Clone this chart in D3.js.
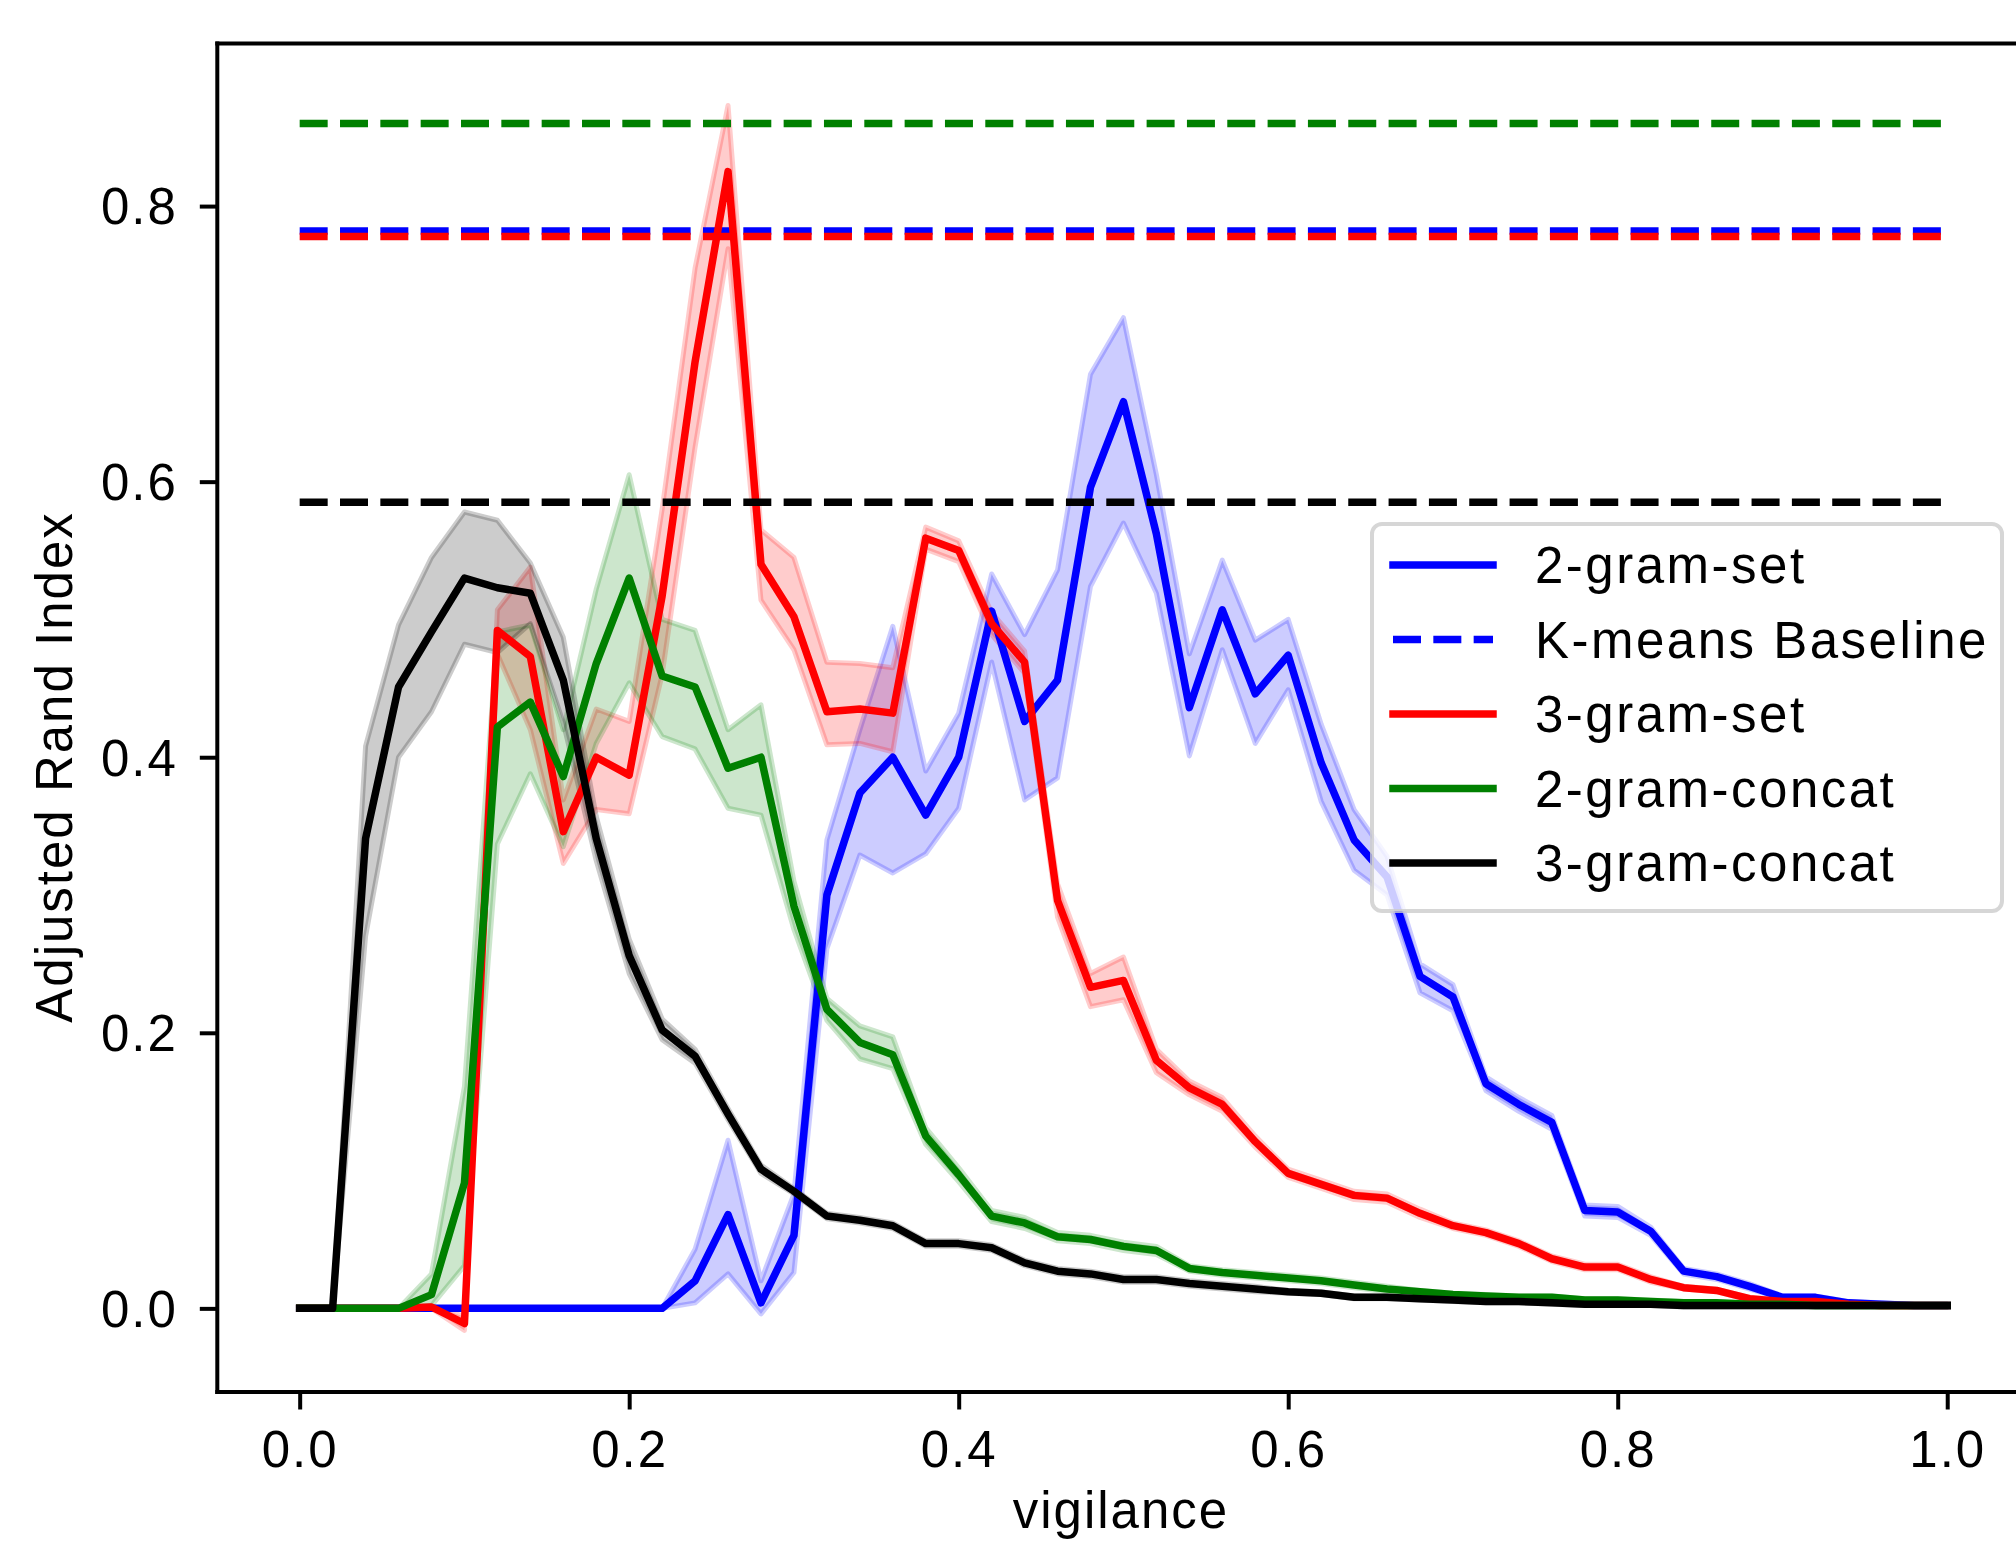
<!DOCTYPE html>
<html><head><meta charset="utf-8">
<script src="https://cdn.jsdelivr.net/npm/d3@7"></script>
<style>
body{margin:0;background:#fff}
text{font-family:"Liberation Sans",Arial,sans-serif}
</style>
</head><body>
<svg id="chart" width="2016" height="1541"></svg>
<script>
// ---------------- data ----------------
const vigilance = [0.00,0.02,0.04,0.06,0.08,0.10,0.12,0.14,0.16,0.18,0.20,0.22,0.24,0.26,0.28,0.30,0.32,0.34,0.36,0.38,0.40,0.42,0.44,0.46,0.48,0.50,0.52,0.54,0.56,0.58,0.60,0.62,0.64,0.66,0.68,0.70,0.72,0.74,0.76,0.78,0.80,0.82,0.84,0.86,0.88,0.90,0.92,0.94,0.96,0.98,1.00];

const seriesNames = ["2-gram-set","3-gram-set","2-gram-concat","3-gram-concat"];
const seriesColors = ["#0000ff","#ff0000","#008000","#000000"];

const set2Mean = [0,0,0,0,0,0,0,0,0,0,0,0,
  0.020,0.068,0.004,0.053,
  0.300,0.374,0.400,0.358,0.400,
  0.506,0.426,0.456,0.596,0.658,
  0.562,0.436,0.507,0.446,0.474,
  0.396,0.340,0.313,0.241,0.226,
  0.163,0.148,0.135,0.071,0.070,
  0.056,0.027,0.023,0.016,0.008,
  0.008,0.004,0.003,0.002,0.002];
const set2Lower = [0,0,0,0,0,0,0,0,0,0,0,0,
  0.004,0.025,-0.004,0.026,
  0.261,0.329,0.316,0.330,0.363,
  0.469,0.369,0.385,0.524,0.570,
  0.519,0.401,0.478,0.410,0.449,
  0.368,0.318,0.300,0.229,0.216,
  0.158,0.143,0.130,0.067,0.066,
  0.053,0.025,0.021,0.014,0.007,
  0.007,0.003,0.002,0.001,0.001];
const set2Upper = [0,0,0,0,0,0,0,0,0,0,0,0,
  0.043,0.122,0.020,0.083,
  0.340,0.420,0.495,0.390,0.432,
  0.533,0.489,0.536,0.678,0.719,
  0.605,0.475,0.543,0.485,0.500,
  0.424,0.362,0.328,0.250,0.235,
  0.168,0.153,0.140,0.075,0.074,
  0.059,0.029,0.025,0.018,0.009,
  0.009,0.005,0.004,0.003,0.003];

const set3Mean = [0,0,0,0,0.001,-0.011,
  0.492,0.473,0.346,0.400,0.387,
  0.517,0.687,0.825,0.540,0.502,
  0.433,0.435,0.432,0.559,0.550,
  0.497,0.469,0.296,0.233,0.238,
  0.180,0.160,0.148,0.121,0.098,
  0.090,0.082,0.080,0.069,0.060,
  0.055,0.047,0.036,0.030,0.030,
  0.021,0.015,0.013,0.007,0.005,
  0.005,0.003,0.002,0.002,0.002];
const set3Lower = [0,0,0,0,0.000,-0.016,
  0.475,0.420,0.323,0.362,0.359,
  0.460,0.625,0.769,0.514,0.478,
  0.409,0.410,0.404,0.551,0.542,
  0.489,0.461,0.284,0.219,0.224,
  0.171,0.155,0.143,0.117,0.095,
  0.087,0.079,0.077,0.066,0.058,
  0.053,0.045,0.034,0.028,0.028,
  0.019,0.014,0.012,0.006,0.004,
  0.004,0.002,0.001,0.001,0.001];
const set3Upper = [0,0,0,0,0.002,-0.006,
  0.507,0.538,0.369,0.435,0.426,
  0.580,0.755,0.873,0.565,0.545,
  0.469,0.468,0.465,0.567,0.557,
  0.505,0.477,0.308,0.243,0.255,
  0.188,0.165,0.153,0.125,0.101,
  0.093,0.085,0.083,0.072,0.062,
  0.057,0.049,0.038,0.032,0.032,
  0.023,0.016,0.014,0.008,0.006,
  0.006,0.004,0.003,0.003,0.003];

const concat2Mean = [0,0,0,0,0.010,0.091,
  0.422,0.440,0.386,0.468,0.530,
  0.459,0.451,0.392,0.400,0.292,
  0.217,0.193,0.184,0.125,0.097,
  0.067,0.062,0.052,0.050,0.045,
  0.042,0.029,0.026,0.024,0.022,
  0.020,0.017,0.014,0.012,0.010,
  0.009,0.008,0.008,0.006,0.006,
  0.005,0.004,0.004,0.003,0.003,
  0.002,0.002,0.002,0.002,0.002];
const concat2Lower = [0,0,0,0,0.002,0.031,
  0.337,0.388,0.335,0.410,0.454,
  0.415,0.406,0.363,0.358,0.275,
  0.209,0.181,0.174,0.119,0.092,
  0.063,0.058,0.049,0.047,0.042,
  0.039,0.027,0.024,0.022,0.020,
  0.018,0.015,0.012,0.011,0.009,
  0.008,0.007,0.007,0.005,0.005,
  0.004,0.003,0.003,0.002,0.002,
  0.001,0.001,0.001,0.001,0.001];
const concat2Upper = [0,0,0,0,0.025,0.161,
  0.491,0.496,0.420,0.522,0.605,
  0.500,0.492,0.420,0.438,0.310,
  0.225,0.205,0.197,0.131,0.102,
  0.071,0.066,0.055,0.053,0.048,
  0.045,0.031,0.028,0.026,0.024,
  0.022,0.019,0.016,0.013,0.011,
  0.010,0.009,0.009,0.007,0.007,
  0.006,0.005,0.005,0.004,0.004,
  0.003,0.003,0.003,0.003,0.003];

const concat3Mean = [0,0,0.341,0.451,0.491,0.530,
  0.523,0.519,0.456,0.341,0.256,
  0.202,0.183,0.141,0.101,0.085,
  0.067,0.064,0.060,0.047,0.047,
  0.044,0.033,0.027,0.025,0.021,
  0.021,0.018,0.016,0.014,0.012,
  0.011,0.008,0.008,0.007,0.006,
  0.005,0.005,0.004,0.003,0.003,
  0.003,0.002,0.002,0.002,0.002,
  0.002,0.002,0.002,0.002,0.002];
const concat3Lower = [0,0,0.270,0.400,0.433,0.482,
  0.476,0.497,0.425,0.325,0.243,
  0.195,0.178,0.137,0.098,0.083,
  0.065,0.062,0.058,0.045,0.045,
  0.042,0.031,0.025,0.023,0.019,
  0.019,0.016,0.014,0.012,0.011,
  0.010,0.007,0.007,0.006,0.005,
  0.004,0.004,0.003,0.002,0.002,
  0.002,0.001,0.001,0.001,0.001,
  0.001,0.001,0.001,0.001,0.001];
const concat3Upper = [0,0,0.408,0.496,0.545,0.578,
  0.572,0.541,0.487,0.357,0.268,
  0.210,0.188,0.145,0.104,0.087,
  0.069,0.066,0.062,0.049,0.049,
  0.046,0.035,0.029,0.027,0.023,
  0.023,0.020,0.018,0.016,0.013,
  0.012,0.009,0.009,0.008,0.007,
  0.006,0.006,0.005,0.004,0.004,
  0.004,0.003,0.003,0.003,0.003,
  0.003,0.003,0.003,0.003,0.003];

// K-means baseline per series (blue, red, green, black)
const baselineValues = [0.782, 0.778, 0.860, 0.585];

const xTicks = [0.0, 0.2, 0.4, 0.6, 0.8, 1.0];
const yTicks = [0.0, 0.2, 0.4, 0.6, 0.8];
const legendLabels = ["2-gram-set","K-means Baseline","3-gram-set","2-gram-concat","3-gram-concat"];

// ---------------- drawing ----------------
(function draw() {
const means = [set2Mean, set3Mean, concat2Mean, concat3Mean];
const lowers = [set2Lower, set3Lower, concat2Lower, concat3Lower];
const uppers = [set2Upper, set3Upper, concat2Upper, concat3Upper];

const svg = d3.select("#chart");
const FONT = 51;
const pLeft = 217.3, pRight = 2029.6, pTop = 43.5, pBottom = 1392;

const x = d3.scaleLinear().domain([-0.05, 1.05]).range([pLeft, pRight]);
const y = d3.scaleLinear().domain([-0.0607, 0.918]).range([pBottom, pTop]);

svg.append("defs").append("clipPath").attr("id","clip")
  .append("rect").attr("x",pLeft).attr("y",pTop).attr("width",pRight-pLeft).attr("height",pBottom-pTop);

const plot = svg.append("g").attr("clip-path","url(#clip)");

const area = d3.area().x(d => x(d.v)).y0(d => y(d.lo)).y1(d => y(d.hi));
const line = d3.line().x(d => x(d.v)).y(d => y(d.m));

const seriesData = means.map((m, s) => vigilance.map((v, i) => ({v, m: m[i], lo: lowers[s][i], hi: uppers[s][i]})));

// bands (below lines)
seriesData.forEach((data, s) => {
  plot.append("path").datum(data)
    .attr("d", area)
    .attr("fill", seriesColors[s]).attr("fill-opacity", 0.2)
    .attr("stroke", seriesColors[s]).attr("stroke-opacity", 0.2)
    .attr("stroke-width", 5).attr("stroke-linejoin","round");
});

// mean lines and baselines
seriesData.forEach((data, s) => {
  plot.append("path").datum(data)
    .attr("d", line)
    .attr("fill","none").attr("stroke", seriesColors[s])
    .attr("stroke-width", 7.5).attr("stroke-linejoin","round").attr("stroke-linecap","square");
  plot.append("line")
    .attr("x1", x(vigilance[0])).attr("x2", x(vigilance[vigilance.length-1]))
    .attr("y1", y(baselineValues[s])).attr("y2", y(baselineValues[s]))
    .attr("stroke", seriesColors[s]).attr("stroke-width", 7.5)
    .attr("stroke-dasharray","28,12.33").attr("stroke-linecap","butt");
});

// axes
const xAxis = svg.append("g").attr("transform", `translate(0,${pBottom})`)
  .call(d3.axisBottom(x).tickValues(xTicks).tickFormat(d3.format(".1f"))
    .tickSize(17.5).tickSizeOuter(0).tickPadding(21));
const yAxis = svg.append("g").attr("transform", `translate(${pLeft},0)`)
  .call(d3.axisLeft(y).tickValues(yTicks).tickFormat(d3.format(".1f"))
    .tickSize(17.5).tickSizeOuter(0).tickPadding(22));
[xAxis, yAxis].forEach(a => {
  a.select(".domain").remove();
  a.attr("font-size", FONT).attr("font-family", '"Liberation Sans",Arial,sans-serif');
  a.selectAll(".tick line").attr("stroke","#000").attr("stroke-width",4);
  a.selectAll(".tick text").attr("fill","#000").style("letter-spacing","2px");
});
yAxis.selectAll(".tick text").attr("dy","0.35em");

// spines
const spines = svg.append("g").attr("stroke","#000").attr("stroke-width",4).attr("stroke-linecap","square");
spines.append("line").attr("x1",pLeft).attr("x2",pLeft).attr("y1",pTop).attr("y2",pBottom);
spines.append("line").attr("x1",pLeft).attr("x2",pRight).attr("y1",pBottom).attr("y2",pBottom);
spines.append("line").attr("x1",pLeft).attr("x2",pRight).attr("y1",pTop).attr("y2",pTop);
spines.append("line").attr("x1",pRight).attr("x2",pRight).attr("y1",pTop).attr("y2",pBottom);

// axis labels
svg.append("text").text("vigilance")
  .attr("x", 1121).attr("y", 1528).attr("text-anchor","middle")
  .attr("font-size", FONT).style("letter-spacing","2px");
svg.append("text").text("Adjusted Rand Index")
  .attr("transform","translate(72,767) rotate(-90)").attr("text-anchor","middle")
  .attr("font-size", FONT).style("letter-spacing","2px");

// legend
const lg = svg.append("g");
lg.append("rect").attr("x",1372).attr("y",524).attr("width",630).attr("height",387)
  .attr("rx",10).attr("ry",10)
  .attr("fill","#fff").attr("fill-opacity",0.8)
  .attr("stroke","#cccccc").attr("stroke-opacity",0.8).attr("stroke-width",4);
const legendStyles = [
  {c: seriesColors[0], dash: null},
  {c: seriesColors[0], dash: "28,12.33"},
  {c: seriesColors[1], dash: null},
  {c: seriesColors[2], dash: null},
  {c: seriesColors[3], dash: null}
];
legendLabels.forEach((lab, i) => {
  const ry = 565 + i * 74.5;
  const st = legendStyles[i];
  const l = lg.append("line").attr("x1",1393).attr("x2",1493).attr("y1",ry).attr("y2",ry)
    .attr("stroke", st.c).attr("stroke-width", 7.5);
  if (st.dash) l.attr("stroke-dasharray", st.dash).attr("stroke-linecap","butt");
  else l.attr("stroke-linecap","square");
  lg.append("text").text(lab).attr("x",1535).attr("y",ry + 18)
    .attr("font-size", FONT).style("letter-spacing","2.5px").attr("fill","#000");
});
})();
</script>
</body></html>
